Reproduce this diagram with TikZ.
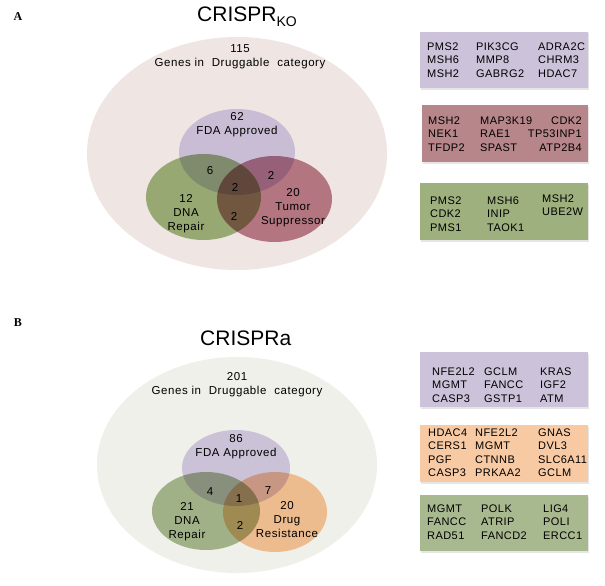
\documentclass[tikz,border=0pt]{standalone}
\usepackage{fontspec}
\setmainfont{Liberation Sans}
\newfontfamily\panelfont{Liberation Serif}
\newfontfamily\genefont[LetterSpace=4]{Liberation Sans}
\newfontfamily\vennfont[LetterSpace=5]{Liberation Sans}
\usetikzlibrary{shadows}
\definecolor{druggko}{HTML}{EFE5E3}
\definecolor{drugga}{HTML}{EFF0E9}
\definecolor{fdaA}{HTML}{D6D3F0}
\definecolor{fdaB}{HTML}{D9CFED}
\definecolor{repairA}{HTML}{A2BC82}
\definecolor{repairB}{HTML}{ACBD94}
\definecolor{tumor}{HTML}{C08390}
\definecolor{resist}{HTML}{FCC79C}
\definecolor{boxfda}{HTML}{CCC2DA}
\definecolor{boxtum}{HTML}{B7868A}
\definecolor{boxrepA}{HTML}{9DB07E}
\definecolor{boxres}{HTML}{F8CAA4}
\definecolor{boxrepB}{HTML}{A9B98F}

\begin{document}
\begin{tikzpicture}[x=1pt,y=-1pt,
  venn/.style={font=\vennfont\fontsize{11.5}{14}\selectfont,align=center,inner sep=0pt},
  genes/.style={font=\genefont\fontsize{11}{13.5}\selectfont,inner sep=0pt},
  genebox/.style={rectangle,inner sep=0pt,minimum width=168pt,minimum height=56pt,
    drop shadow={opacity=0.2,shadow xshift=1pt,shadow yshift=-1.5pt}},
  panel/.style={font=\panelfont\bfseries\fontsize{12}{12}\selectfont,inner sep=0pt},
  heading/.style={font=\fontsize{21}{21}\selectfont,inner sep=0pt},
  setfill/.style={fill=#1,blend mode=multiply}]
  \fill[white] (0,0) rectangle (605,586);
  \useasboundingbox (0,0) rectangle (605,586);

  % panel A: knock-out screen
  \node[panel] (labA) at (18,17) {A};
  \node[heading,anchor=west] (titA) at (197,17) {CRISPR\raisebox{-5pt}{\fontsize{14}{14}\selectfont KO}};
  \fill[druggko] (237,153.5) ellipse[x radius=150pt,y radius=116.5pt];
  \fill[setfill=fdaA] (237,152) ellipse[x radius=58pt,y radius=43pt];
  \fill[setfill=repairA] (203.5,197) ellipse[x radius=57.5pt,y radius=43pt];
  \fill[setfill=tumor] (274.5,199) ellipse[x radius=57.5pt,y radius=43pt];
  \node[venn] (allA) at (240,56.5) {115\\Genes in\hspace{4pt} Druggable\hspace{4pt} category};
  \node[venn] (fdaA) at (237,124.5) {62\\FDA Approved};
  \node[venn] (repA) at (186,213.5) {12\\DNA\\Repair};
  \node[venn] (tumA) at (293,208) {20\\Tumor\\Suppressor};
  \node[venn] (frA) at (210,171) {6};
  \node[venn] (allthreeA) at (235,187) {2};
  \node[venn] (ftA) at (271,175) {2};
  \node[venn] (rtA) at (234,216) {2};

  \node[genebox,fill=boxfda] (kofda) at (504,60) {};
  \node[genes,anchor=west,align=left] at (427,60) {PMS2\\MSH6\\MSH2};
  \node[genes,anchor=west,align=left] at (476,60) {PIK3CG\\MMP8\\GABRG2};
  \node[genes,anchor=west,align=left] at (538,60) {ADRA2C\\CHRM3\\HDAC7};
  \node[genebox,fill=boxtum,minimum width=166pt,minimum height=57pt] (kotum) at (505,133.5) {};
  \node[genes,anchor=west,align=left] at (428,134) {MSH2\\NEK1\\TFDP2};
  \node[genes,anchor=west,align=left] at (480,134) {MAP3K19\\RAE1\\SPAST};
  \node[genes,anchor=east,align=right] at (582,134) {CDK2\\TP53INP1\\ATP2B4};
  \node[genebox,fill=boxrepA,minimum height=57pt] (korep) at (504,211.5) {};
  \node[genes,anchor=west,align=left] at (430,214) {PMS2\\CDK2\\PMS1};
  \node[genes,anchor=west,align=left] at (487,214) {MSH6\\INIP\\TAOK1};
  \node[genes,anchor=north west,align=left] at (542,194.5) {MSH2\\UBE2W};

  % panel B: activation screen
  \node[panel] (labB) at (18,323) {B};
  \node[heading,anchor=west] (titB) at (200,338) {CRISPRa};
  \fill[drugga] (237,465) ellipse[x radius=140pt,y radius=108pt];
  \fill[setfill=fdaB] (236,468) ellipse[x radius=54pt,y radius=38pt];
  \fill[setfill=repairB] (206,511) ellipse[x radius=54pt,y radius=39pt];
  \fill[setfill=resist] (275,512) ellipse[x radius=52pt,y radius=40pt];
  \node[venn] (allB) at (237,384.5) {201\\Genes in\hspace{4pt} Druggable\hspace{4pt} category};
  \node[venn] (fdaB) at (236,446.5) {86\\FDA Approved};
  \node[venn] (repB) at (187,521.5) {21\\DNA\\Repair};
  \node[venn] (resB) at (287,520) {20\\Drug\\Resistance};
  \node[venn] (frB) at (210,492) {4};
  \node[venn] (allthreeB) at (239,499) {1};
  \node[venn] (fsB) at (268,491) {7};
  \node[venn] (rsB) at (240,525) {2};

  \node[genebox,fill=boxfda,minimum height=55pt] (afda) at (504,379.5) {};
  \node[genes,anchor=west,align=left] at (432,385) {NFE2L2\\MGMT\\CASP3};
  \node[genes,anchor=west,align=left] at (484,385) {GCLM\\FANCC\\GSTP1};
  \node[genes,anchor=west,align=left] at (540,385) {KRAS\\IGF2\\ATM};
  \node[genebox,fill=boxres,minimum height=57pt] (ares) at (504,453.5) {};
  \node[genes,anchor=west,align=left] at (428,452.5) {HDAC4\\CERS1\\PGF\\CASP3};
  \node[genes,anchor=west,align=left] at (475,452.5) {NFE2L2\\MGMT\\CTNNB\\PRKAA2};
  \node[genes,anchor=west,align=left] at (538,452.5) {GNAS\\DVL3\\SLC6A11\\GCLM};
  \node[genebox,fill=boxrepB] (arep) at (504,523) {};
  \node[genes,anchor=west,align=left] at (427,522) {MGMT\\FANCC\\RAD51};
  \node[genes,anchor=west,align=left] at (481,522) {POLK\\ATRIP\\FANCD2};
  \node[genes,anchor=west,align=left] at (543,522) {LIG4\\POLI\\ERCC1};
\end{tikzpicture}
\end{document}
